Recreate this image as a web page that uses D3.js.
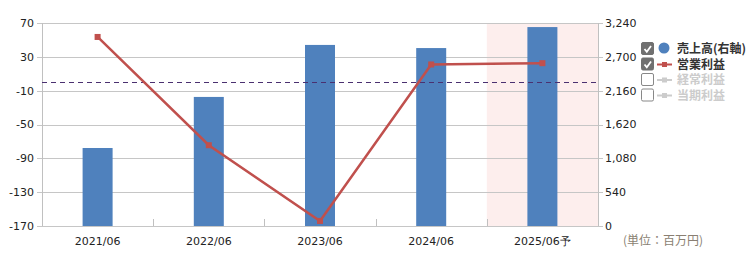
<!DOCTYPE html>
<html><head><meta charset="utf-8">
<script src="https://cdn.jsdelivr.net/npm/d3@7"></script>
<style>body{margin:0;background:#fff;}svg{display:block;font-family:"DejaVu Sans",sans-serif;}</style>
</head><body>
<svg id="c" width="752" height="255"></svg>
<script>
const categories = ["2021/06","2022/06","2023/06","2024/06","2025/06予"];
const sales = [1245, 2060, 2890, 2840, 3175];          // 売上高 (right axis)
const opProfit = [53.5, -74.5, -164, 21, 22.5];       // 営業利益 (left axis)
const leftTicks = [70, 30, -10, -50, -90, -130, -170];
const rightTicks = [0, 540, 1080, 1620, 2160, 2700, 3240];
const legendItems = [
  {name:"売上高(右軸)", type:"circle", on:true},
  {name:"営業利益", type:"line", on:true},
  {name:"経常利益", type:"line", on:false},
  {name:"当期利益", type:"line", on:false}
];
const forecastIndex = 4;

const svg = d3.select("#c");
const L = 42, R = 598, T = 23, B = 226;
const x = d3.scaleBand().domain(categories).range([L, R]);
const yL = d3.scaleLinear().domain([-170, 70]).range([B, T]);
const yR = d3.scaleLinear().domain([0, 3240]).range([B, T]);

// forecast band
svg.append("rect").attr("x", x(categories[forecastIndex])).attr("y", T)
  .attr("width", x.bandwidth()).attr("height", B - T).attr("fill", "#fdeeed");

// gridlines
svg.append("g").selectAll("line").data(leftTicks).join("line")
  .attr("x1", L - 5).attr("x2", R + 5).attr("y1", d => Math.round(yL(d)) + 0.5).attr("y2", d => Math.round(yL(d)) + 0.5)
  .attr("stroke", "#c6c6c6").attr("stroke-width", 1);

// axis lines
svg.append("line").attr("x1", L + 0.5).attr("x2", L + 0.5).attr("y1", T).attr("y2", B).attr("stroke", "#c0c0c0");
svg.append("line").attr("x1", R + 0.5).attr("x2", R + 0.5).attr("y1", T).attr("y2", B).attr("stroke", "#c0c0c0");
// category separators
svg.append("g").selectAll("line").data(categories.slice(1)).join("line")
  .attr("x1", d => Math.round(x(d)) + 0.5).attr("x2", d => Math.round(x(d)) + 0.5)
  .attr("y1", B - 7).attr("y2", B).attr("stroke", "#c0c0c0");

// left tick labels
svg.append("g").selectAll("text").data(leftTicks).join("text")
  .attr("x", 34).attr("y", d => yL(d)).attr("dy", "0.35em").attr("text-anchor", "end")
  .attr("font-size", 11).attr("fill", "#222").text(d => d);
// right tick labels
svg.append("g").selectAll("text").data(rightTicks).join("text")
  .attr("x", 605).attr("y", d => yR(d)).attr("dy", "0.35em").attr("text-anchor", "start")
  .attr("font-size", 11).attr("fill", "#222").text(d => d3.format(",")(d));
// x labels
svg.append("g").selectAll("text").data(categories).join("text")
  .attr("x", d => x(d) + x.bandwidth() / 2).attr("y", 241).attr("dy", "0.35em").attr("text-anchor", "middle")
  .attr("font-size", 11).attr("fill", "#222").text(d => d);
svg.append("text").attr("x", 623).attr("y", 241).attr("dy", "0.35em").attr("font-size", 12)
  .attr("font-family", "'Noto Sans CJK JP', sans-serif")
  .attr("fill", "#8a7f72").text("(単位：百万円)");

// bars
const bw = 30;
svg.append("g").selectAll("rect").data(sales).join("rect")
  .attr("x", (d, i) => x(categories[i]) + x.bandwidth() / 2 - bw / 2)
  .attr("y", d => yR(d)).attr("width", bw).attr("height", d => B - yR(d)).attr("fill", "#4f81bd");

// zero dashed line
svg.append("line").attr("x1", L).attr("x2", R).attr("y1", Math.round(yL(0)) + 0.5).attr("y2", Math.round(yL(0)) + 0.5)
  .attr("stroke", "#4a3070").attr("stroke-width", 1).attr("stroke-dasharray", "5,4");

// line
const line = d3.line().x((d, i) => x(categories[i]) + x.bandwidth() / 2).y(d => yL(d));
svg.append("path").datum(opProfit).attr("d", line).attr("fill", "none")
  .attr("stroke", "#c0504d").attr("stroke-width", 2.5);
svg.append("g").selectAll("rect").data(opProfit).join("rect")
  .attr("x", (d, i) => x(categories[i]) + x.bandwidth() / 2 - 3).attr("y", d => yL(d) - 3)
  .attr("width", 6).attr("height", 6).attr("fill", "#c0504d");

// legend
const lg = svg.append("g");
legendItems.forEach((it, i) => {
  const cy = 49 + i * 15.5;
  const g = lg.append("g");
  g.append("rect").attr("x", 641.5).attr("y", cy - 6.5).attr("width", 12).attr("height", 12).attr("rx", 1.5)
    .attr("fill", it.on ? "#707070" : "#fff").attr("stroke", it.on ? "#707070" : "#888");
  if (it.on) {
    g.append("path").attr("d", `M644.5,${cy} L646.8,${cy + 2.8} L651,${cy - 3}`).attr("fill", "none")
      .attr("stroke", "#fff").attr("stroke-width", 1.8);
  }
  if (it.type === "circle") {
    g.append("circle").attr("cx", 664).attr("cy", cy - 1).attr("r", 5.5).attr("fill", "#4f81bd");
  } else {
    const col = it.on ? "#c0504d" : "#cccccc";
    g.append("line").attr("x1", 657).attr("x2", 672).attr("y1", cy).attr("y2", cy).attr("stroke", col).attr("stroke-width", 2);
    g.append("rect").attr("x", 662).attr("y", cy - 2.5).attr("width", 5).attr("height", 5).attr("fill", col);
  }
  g.append("text").attr("x", 677).attr("y", cy).attr("dy", "0.35em").attr("font-size", 12).attr("font-weight", "bold")
    .attr("font-family", "'Noto Sans CJK JP', sans-serif")
    .attr("fill", it.on ? "#333" : "#cccccc").text(it.name);
});
</script>
</body></html>
